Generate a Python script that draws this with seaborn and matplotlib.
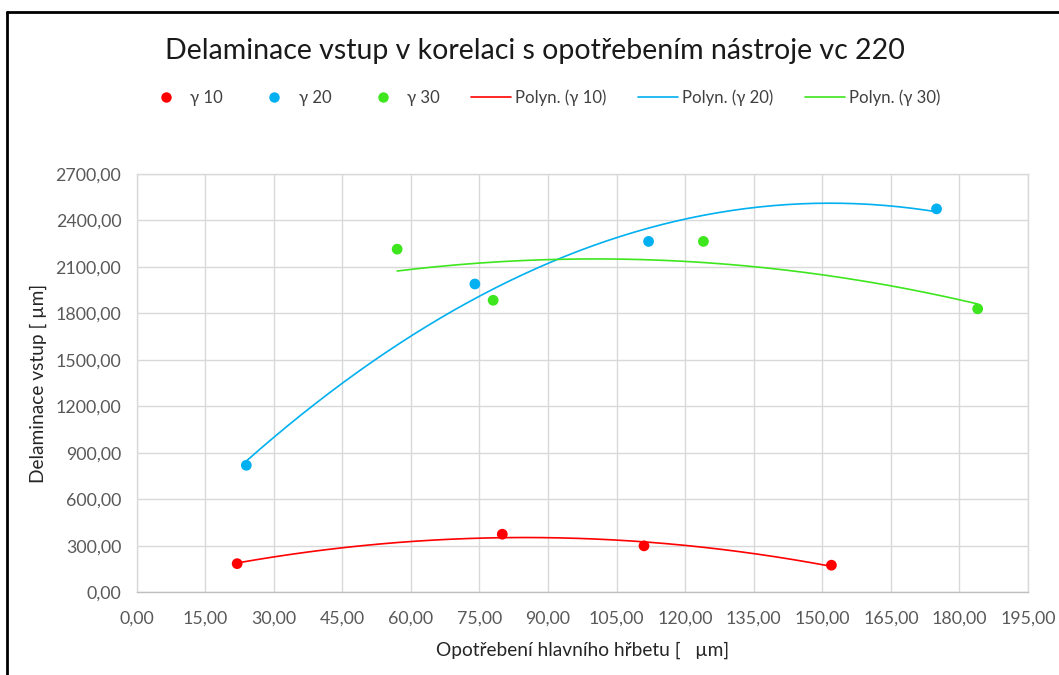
import numpy as np
import pandas as pd
import matplotlib
matplotlib.use("Agg")
import matplotlib.pyplot as plt
from matplotlib.ticker import FuncFormatter, MultipleLocator
from matplotlib.lines import Line2D
import seaborn as sns

# Measured wear (VB) and entry delamination for each rake angle
vb_g10 = [22, 80, 111, 152]
dl_g10 = [185, 375, 300, 175]
vb_g20 = [24, 74, 112, 175]
dl_g20 = [820, 1990, 2265, 2475]
vb_g30 = [57, 78, 124, 184]
dl_g30 = [2215, 1885, 2265, 1830]

series_names = ["γ 10", "γ 20", "γ 30"]
colors = {"γ 10": "#ff0000", "γ 20": "#00b0f0", "γ 30": "#3ee61e"}

x_ticks_max = 195
y_ticks_max = 2700

frames = []
for name, xs, ys in zip(series_names, [vb_g10, vb_g20, vb_g30], [dl_g10, dl_g20, dl_g30]):
    frames.append(pd.DataFrame({"vb": xs, "dl": ys, "serie": name}))
df = pd.concat(frames, ignore_index=True)

# Second-order polynomial trendlines over each series' range
trend_frames = []
for name in series_names:
    sub = df[df["serie"] == name]
    coef = np.polyfit(sub["vb"], sub["dl"], 2)
    xs = np.linspace(sub["vb"].min(), sub["vb"].max(), 200)
    trend_frames.append(pd.DataFrame({"vb": xs, "dl": np.polyval(coef, xs), "serie": name}))
trend = pd.concat(trend_frames, ignore_index=True)

sns.set_style("white")
plt.rcParams["font.family"] = ["Lato", "DejaVu Sans"]

fig = plt.figure(figsize=(10.59, 6.75), dpi=100)
ax = fig.add_axes([0.129, 0.1225, 0.8417, 0.6197])

sns.lineplot(data=trend, x="vb", y="dl", hue="serie", palette=colors,
             linewidth=1.2, legend=False, ax=ax, sort=False, estimator=None)
sns.scatterplot(data=df, x="vb", y="dl", hue="serie", palette=colors,
                s=60, edgecolor="none", legend=False, ax=ax, zorder=5)

ax.set_xlim(0, x_ticks_max)
ax.set_ylim(0, y_ticks_max)
ax.xaxis.set_major_locator(MultipleLocator(15))
ax.yaxis.set_major_locator(MultipleLocator(300))
fmt = FuncFormatter(lambda v, p: f"{v:.2f}".replace(".", ","))
ax.xaxis.set_major_formatter(fmt)
ax.yaxis.set_major_formatter(fmt)
ax.grid(True, color="#d9d9d9", linewidth=1.0)
ax.set_axisbelow(True)
for side, sp in ax.spines.items():
    sp.set_color("#d9d9d9")
    sp.set_linewidth(1.0)
ax.spines["bottom"].set_color("#bfbfbf")
ax.tick_params(length=0, labelsize=12.8, labelcolor="#595959")
ax.tick_params(axis="x", pad=13)
ax.tick_params(axis="y", pad=11)

ax.set_xlabel("Opotřebení hlavního hřbetu [   µm]", fontsize=13.8, color="#262626", labelpad=11)
ax.set_ylabel("Delaminace vstup [ µm]", fontsize=13.8, color="#262626", labelpad=6)

fig.text(0.505, 0.924, "Delaminace vstup v korelaci s opotřebením nástroje vc 220",
         ha="center", va="center", fontsize=20.5, color="#1a1a1a")

handles = []
for name in series_names:
    handles.append(Line2D([], [], linestyle="none", marker="o", markersize=7.5,
                          markerfacecolor=colors[name], markeredgecolor="none", label=name))
for name in series_names:
    handles.append(Line2D([], [], color=colors[name], linewidth=1.2, label=f"Polyn. ({name})"))
leg = fig.legend(handles=handles, loc="center", bbox_to_anchor=(0.513, 0.855), ncol=6,
                 frameon=False, fontsize=12.1, handlelength=2.4, handletextpad=0.25,
                 columnspacing=1.85)
for t in leg.get_texts():
    t.set_color("#404040")

# Outer frame of the chart object
fig.add_artist(Line2D([0.0066, 0.0066], [0.0, 0.982], color="black", linewidth=2.0,
                      transform=fig.transFigure))
fig.add_artist(Line2D([0.0066, 1.0], [0.982, 0.982], color="black", linewidth=2.0,
                      transform=fig.transFigure))

fig.savefig("out.png", dpi=100)
